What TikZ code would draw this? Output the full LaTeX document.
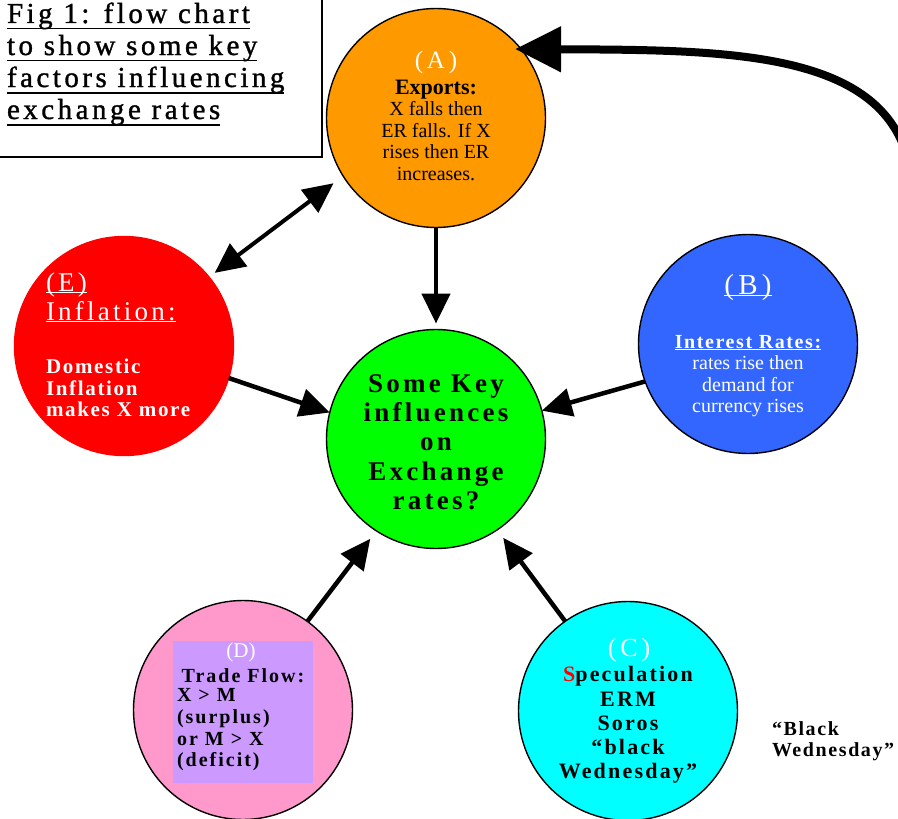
\documentclass[tikz,border=0pt]{standalone}
\usepackage{fontspec}
\setmainfont{Liberation Serif}
\newfontfamily\fwide[LetterSpace=15]{Liberation Serif}
\newfontfamily\fttl[LetterSpace=12,FakeBold=1.2]{Liberation Serif}
\newfontfamily\fcen[LetterSpace=12]{Liberation Serif}
\newfontfamily\fmed[LetterSpace=8]{Liberation Serif}
\newfontfamily\fmedd[LetterSpace=10]{Liberation Serif}
\usetikzlibrary{arrows.meta}
\definecolor{cOrange}{HTML}{FF9900}
\definecolor{cRed}{HTML}{FF0000}
\definecolor{cBlue}{HTML}{3366FF}
\definecolor{cGreen}{HTML}{00FF00}
\definecolor{cCyan}{HTML}{00FFFF}
\definecolor{cPink}{HTML}{FF99CC}
\definecolor{cPurple}{HTML}{CC99FF}
\newcommand\uln[1]{\underline{\smash{#1}}\vphantom{#1}}
\newcommand\ulnt[1]{\setbox0\hbox{#1}\rlap{\rule[-6.5pt]{\wd0}{1.4pt}}\box0}
\begin{document}
\begin{tikzpicture}[x=1pt,y=-1pt,
  ball/.style={circle, minimum size=219pt, inner sep=0pt, outer sep=0pt, draw=black, line width=1.4pt},
  arr/.style={line width=4.5pt, -{Triangle[length=30pt,width=28pt]}},
  darr/.style={line width=4pt, {Triangle[length=30pt,width=28pt]}-{Triangle[length=30pt,width=28pt]}},
  bigarr/.style={line width=8pt, -{Triangle[length=46pt,width=44pt]}},
  txt/.style={inner sep=0pt, outer sep=0pt, align=center},
  ttl/.style={txt, anchor=base west, font=\fontsize{29}{32}\selectfont\fttl}]
\useasboundingbox (0,0) rectangle (898,819);
% title box
\draw[line width=1.5pt] (-5,-5) rectangle (322,157);
\node[ttl] (t1) at (7,23) {\ulnt{Fig 1: flow chart}};
\node[ttl] (t2) at (7,55) {\ulnt{to show some key}};
\node[ttl] (t3) at (7,87) {\ulnt{factors influencing}};
\node[ttl] (t4) at (7,119) {\ulnt{exchange rates}};
% circles
\node[ball, fill=cOrange] (A) at (436,118) {};
\node[ball, fill=cRed, draw=cRed] (E) at (124,346) {};
\node[ball, fill=cBlue] (B) at (748,344) {};
\node[ball, fill=cGreen] (M) at (436,439) {};
\node[ball, fill=cPink] (D) at (243,710) {};
\node[ball, fill=cCyan] (C) at (628,711) {};
\node[fill=cPurple, minimum width=140pt, minimum height=142pt, inner sep=0pt] (Dbox) at (243,712) {};
% texts A
\node[txt, text=white, font=\fontsize{25}{27}\selectfont\fwide] (Alab) at (436,62) {(A)};
\node[txt, font=\fontsize{20}{21.5}\selectfont] (Atxt) at (436,130) {{\fontsize{22}{21.5}\selectfont\bfseries Exports:}\\X falls then\\ER falls. If X\\rises then ER\\increases.};
% texts E
\node[txt, text=white, anchor=base west, font=\fontsize{27}{29}\selectfont\fcen] (Elab) at (46,291) {\uln{(E)}};
\node[txt, text=white, anchor=base west, font=\fontsize{27}{29}\selectfont\fcen] (Ehead) at (46,320) {\uln{Inflation:}};
\node[txt, text=white, align=left, anchor=west, font=\fontsize{21}{21.5}\selectfont\fmed\bfseries] (Etxt) at (46,388) {Domestic\\Inflation\\makes X more};
% texts B
\node[txt, text=white, anchor=base, font=\fontsize{29}{31}\selectfont\fwide] (Blab) at (748,294) {\uln{(B)}};
\node[txt, text=white, font=\fontsize{20}{21.5}\selectfont] (Btxt) at (748,376) {{\fmed\bfseries\uln{Interest Rates:}}\\rates rise then\\demand for\\currency rises};
% centre
\node[txt, font=\fontsize{27}{29.3}\selectfont\fcen\bfseries] (Mtxt) at (436,442) {Some Key\\influences\\on\\Exchange\\rates?};
% D
\node[txt, text=white, font=\fontsize{21}{23}\selectfont] (Dlab) at (241,652) {(D)};
\node[txt, font=\fontsize{20}{22}\selectfont\fmedd\bfseries] (Dhead) at (243,676) {Trade Flow:};
\node[txt, align=left, anchor=west, font=\fontsize{20}{21.7}\selectfont\fmedd\bfseries] (Dtxt) at (177,730) {X > M\\(surplus)\\or M > X\\(deficit)};
% C
\node[txt, text=white, font=\fontsize{26}{28}\selectfont\fwide] (Clab) at (629,650) {(C)};
\node[txt, font=\fontsize{22}{24.25}\selectfont\fmedd\bfseries] (Ctxt) at (628,725) {{\color{red}S}peculation\\ERM\\Soros\\“black\\Wednesday”};
% outside label
\node[txt, align=left, anchor=west, font=\fontsize{20}{21}\selectfont\fmed\bfseries] (BW) at (772,741) {“Black\\Wednesday”};
% arrows
\draw[arr, shorten >=6pt] (A.south) -- (M.north);
\draw[darr, shorten <=12pt, shorten >=7pt] (A.212) -- (E.39);
\draw[arr] (E.-17) -- (M.166);
\draw[arr] (B.200) -- (M.15);
\draw[arr, shorten >=10pt] (D.54) -- (M.237);
\draw[arr, shorten >=10pt] (C.125) -- (M.-56);
\coordinate (s) at (905,150);
\draw[bigarr, shorten >=-6pt] (s) .. controls (870,50) and (720,50) .. (A.39);
\end{tikzpicture}
\end{document}
